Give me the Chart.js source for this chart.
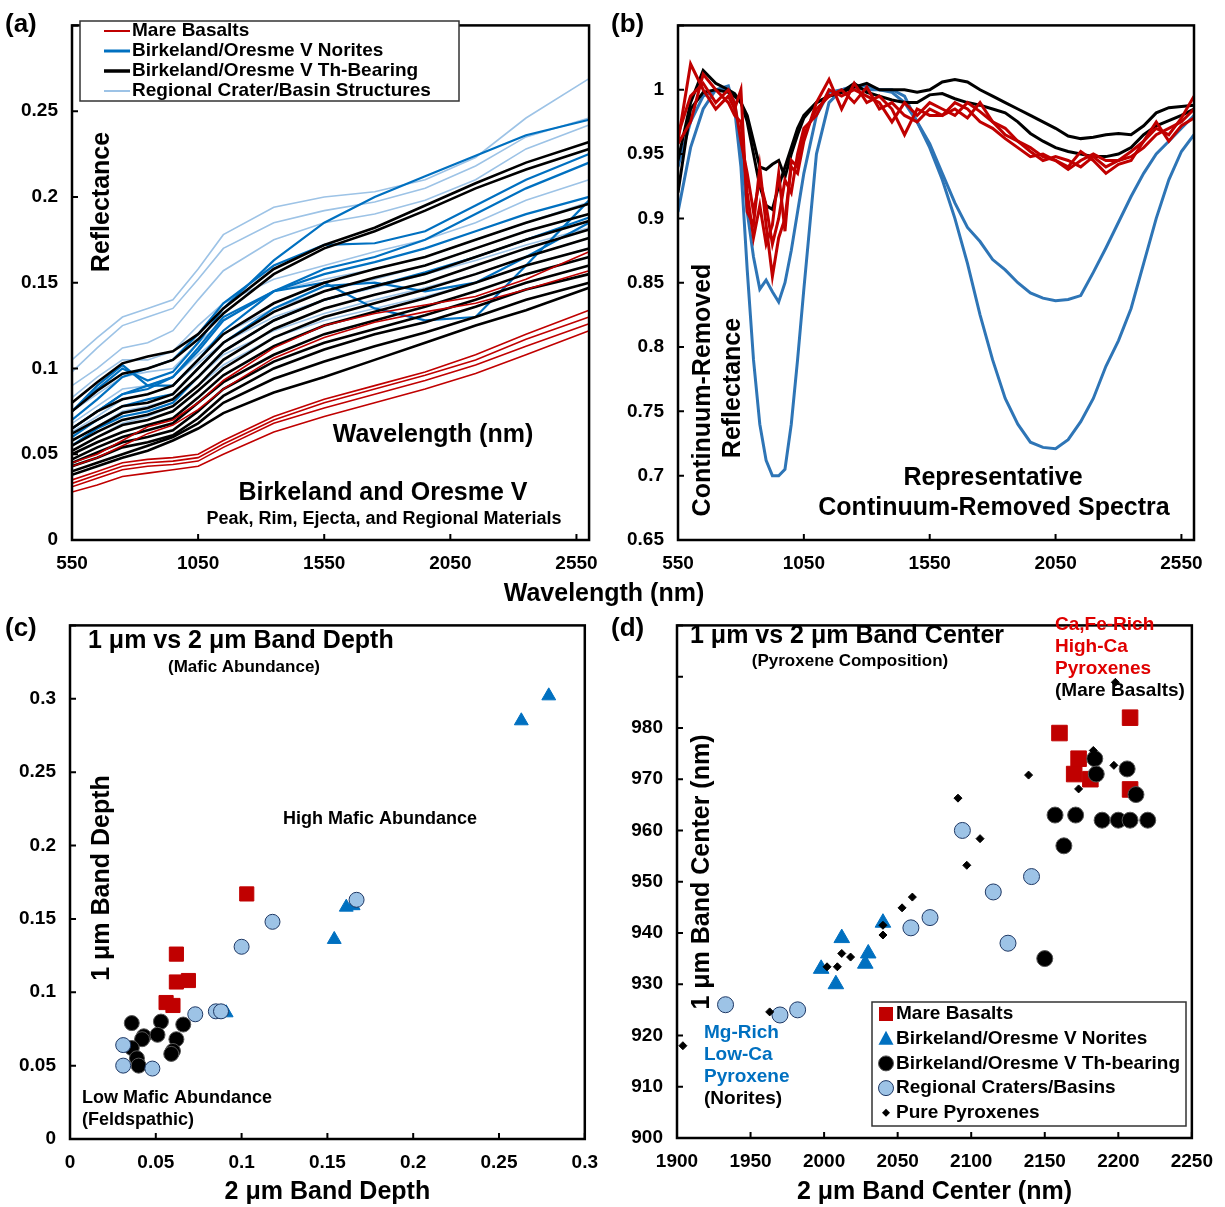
<!DOCTYPE html>
<html>
<head>
<meta charset="utf-8">
<script src="https://cdn.jsdelivr.net/npm/chart.js@4.4.0/dist/chart.umd.min.js"></script>
<style>
  body { margin: 0; background: #fff; }
  #wrap { position: relative; width: 1225px; height: 1207px; }
  canvas { position: absolute; }
  #wlTitle { position: absolute; left: 454px; top: 577px; width: 300px; text-align: center;
             font: bold 25px/30px "Liberation Sans", Arial, sans-serif; color: #000; }
</style>
</head>
<body>
<div id="wrap">
  <canvas id="chartA" width="610" height="575" style="left:0;top:0"></canvas>
  <canvas id="chartB" width="615" height="575" style="left:610px;top:0"></canvas>
  <canvas id="chartC" width="610" height="607" style="left:0;top:600px"></canvas>
  <canvas id="chartD" width="615" height="607" style="left:610px;top:600px"></canvas>
  <div id="wlTitle">Wavelength (nm)</div>
</div>
<script>
// ---- (a) reflectance spectra ----
const specWl = [550, 650, 750, 850, 950, 1050, 1150, 1350, 1550, 1750, 1950, 2150, 2350, 2600];
const wlTicks = [550, 1050, 1550, 2050, 2550];

const mareSpectra = [
  [0.035, 0.040, 0.045, 0.047, 0.048, 0.050, 0.058, 0.072, 0.082, 0.090, 0.098, 0.108, 0.120, 0.134],
  [0.033, 0.038, 0.043, 0.045, 0.046, 0.048, 0.056, 0.070, 0.080, 0.088, 0.096, 0.105, 0.117, 0.130],
  [0.031, 0.036, 0.041, 0.043, 0.044, 0.046, 0.054, 0.068, 0.077, 0.085, 0.093, 0.102, 0.113, 0.126],
  [0.028, 0.032, 0.037, 0.039, 0.041, 0.043, 0.050, 0.063, 0.072, 0.080, 0.088, 0.097, 0.108, 0.122],
  [0.045, 0.050, 0.058, 0.066, 0.070, 0.080, 0.093, 0.112, 0.125, 0.132, 0.137, 0.142, 0.152, 0.168],
  [0.043, 0.048, 0.055, 0.062, 0.067, 0.076, 0.088, 0.106, 0.118, 0.127, 0.133, 0.138, 0.146, 0.157]
];
const noriteSpectra = [
  [0.075, 0.088, 0.100, 0.093, 0.098, 0.115, 0.135, 0.163, 0.185, 0.200, 0.212, 0.224, 0.236, 0.245],
  [0.070, 0.082, 0.095, 0.100, 0.105, 0.120, 0.138, 0.160, 0.172, 0.173, 0.180, 0.195, 0.210, 0.225],
  [0.065, 0.075, 0.085, 0.090, 0.095, 0.110, 0.128, 0.145, 0.158, 0.165, 0.175, 0.190, 0.205, 0.220],
  [0.075, 0.090, 0.102, 0.090, 0.090, 0.105, 0.122, 0.145, 0.155, 0.162, 0.170, 0.180, 0.190, 0.200],
  [0.065, 0.075, 0.085, 0.088, 0.095, 0.112, 0.130, 0.145, 0.150, 0.135, 0.128, 0.130, 0.160, 0.198],
  [0.060, 0.070, 0.078, 0.082, 0.085, 0.100, 0.115, 0.135, 0.148, 0.150, 0.145, 0.150, 0.165, 0.185],
  [0.055, 0.065, 0.072, 0.075, 0.080, 0.095, 0.110, 0.128, 0.140, 0.148, 0.156, 0.165, 0.175, 0.188]
];
const thSpectra = [
  [0.080, 0.092, 0.103, 0.107, 0.110, 0.120, 0.135, 0.158, 0.172, 0.182, 0.195, 0.208, 0.220, 0.232],
  [0.075, 0.087, 0.097, 0.100, 0.105, 0.117, 0.132, 0.155, 0.170, 0.180, 0.192, 0.205, 0.216, 0.228],
  [0.065, 0.075, 0.082, 0.085, 0.090, 0.105, 0.120, 0.138, 0.150, 0.158, 0.165, 0.175, 0.185, 0.196],
  [0.062, 0.070, 0.078, 0.080, 0.085, 0.100, 0.115, 0.133, 0.145, 0.153, 0.160, 0.170, 0.180, 0.190],
  [0.058, 0.066, 0.074, 0.077, 0.082, 0.095, 0.110, 0.128, 0.140, 0.148, 0.155, 0.165, 0.175, 0.186],
  [0.055, 0.063, 0.070, 0.073, 0.078, 0.090, 0.105, 0.123, 0.135, 0.143, 0.150, 0.160, 0.170, 0.181],
  [0.052, 0.060, 0.067, 0.070, 0.075, 0.087, 0.100, 0.118, 0.130, 0.138, 0.146, 0.155, 0.165, 0.176],
  [0.050, 0.057, 0.063, 0.067, 0.071, 0.083, 0.096, 0.113, 0.125, 0.133, 0.141, 0.150, 0.160, 0.170],
  [0.047, 0.054, 0.060, 0.064, 0.068, 0.080, 0.092, 0.108, 0.120, 0.128, 0.136, 0.145, 0.155, 0.165],
  [0.045, 0.051, 0.057, 0.060, 0.064, 0.075, 0.088, 0.104, 0.115, 0.123, 0.131, 0.140, 0.150, 0.160],
  [0.043, 0.048, 0.054, 0.057, 0.061, 0.071, 0.084, 0.100, 0.111, 0.120, 0.127, 0.136, 0.146, 0.155],
  [0.040, 0.045, 0.050, 0.055, 0.060, 0.068, 0.080, 0.094, 0.104, 0.113, 0.121, 0.130, 0.140, 0.150],
  [0.038, 0.043, 0.048, 0.052, 0.058, 0.065, 0.074, 0.086, 0.095, 0.105, 0.115, 0.125, 0.134, 0.147]
];
const regionalSpectra = [
  [0.105, 0.118, 0.130, 0.135, 0.140, 0.158, 0.178, 0.194, 0.200, 0.203, 0.210, 0.223, 0.246, 0.269],
  [0.098, 0.112, 0.125, 0.130, 0.135, 0.152, 0.170, 0.185, 0.192, 0.197, 0.205, 0.218, 0.235, 0.246],
  [0.090, 0.100, 0.112, 0.115, 0.122, 0.140, 0.157, 0.175, 0.185, 0.190, 0.198, 0.210, 0.228, 0.242],
  [0.083, 0.095, 0.105, 0.105, 0.110, 0.125, 0.138, 0.152, 0.160, 0.168, 0.175, 0.185, 0.198, 0.210],
  [0.075, 0.085, 0.095, 0.098, 0.100, 0.115, 0.128, 0.145, 0.152, 0.158, 0.165, 0.175, 0.185, 0.197],
  [0.068, 0.078, 0.088, 0.090, 0.095, 0.108, 0.120, 0.135, 0.145, 0.152, 0.160, 0.170, 0.180, 0.190],
  [0.063, 0.072, 0.082, 0.085, 0.090, 0.103, 0.115, 0.130, 0.140, 0.147, 0.155, 0.163, 0.172, 0.182],
  [0.058, 0.066, 0.075, 0.078, 0.082, 0.095, 0.108, 0.122, 0.132, 0.140, 0.147, 0.155, 0.165, 0.176],
  [0.052, 0.060, 0.068, 0.072, 0.078, 0.090, 0.102, 0.118, 0.128, 0.135, 0.142, 0.150, 0.160, 0.170]
];

// ---- (b) continuum-removed spectra ----
const crWl = [550, 600, 650, 700, 750, 775, 800, 825, 850, 875, 900, 925,
              950, 975, 1000, 1025, 1050, 1100, 1150, 1200, 1250, 1300, 1350, 1400,
              1450, 1500, 1550, 1600, 1650, 1700, 1750, 1800, 1850, 1900, 1950, 2000,
              2050, 2100, 2150, 2200, 2250, 2300, 2350, 2400, 2450, 2500, 2550, 2600];
const crMare = [
  [0.960, 1.020, 1.000, 0.985, 0.995, 0.985, 1.000, 0.905, 0.895, 0.940, 0.895, 0.855,
   0.885, 0.900, 0.940, 0.935, 0.960, 0.990, 1.008, 0.985, 1.005, 0.990, 0.995, 0.985,
   0.965, 0.985, 0.980, 0.980, 0.985, 0.978, 0.990, 0.975, 0.965, 0.960, 0.955, 0.948,
   0.945, 0.940, 0.952, 0.945, 0.935, 0.942, 0.945, 0.960, 0.970, 0.965, 0.978, 0.995],
  [0.958, 0.975, 1.012, 1.000, 0.990, 0.980, 0.975, 0.920, 0.885, 0.910, 0.880, 0.895,
   0.935, 0.890, 0.945, 0.940, 0.965, 0.985, 0.995, 1.000, 0.990, 1.002, 0.985, 0.990,
   0.980, 0.975, 0.985, 0.980, 0.990, 0.985, 0.975, 0.970, 0.962, 0.955, 0.948, 0.950,
   0.945, 0.938, 0.945, 0.950, 0.945, 0.945, 0.952, 0.960, 0.975, 0.960, 0.972, 0.978],
  [0.965, 0.995, 1.005, 0.990, 1.000, 0.990, 0.960, 0.935, 0.905, 0.930, 0.910, 0.880,
   0.900, 0.930, 0.920, 0.950, 0.970, 0.980, 1.000, 0.995, 1.000, 0.995, 0.990, 0.975,
   0.990, 0.980, 0.990, 0.985, 0.980, 0.990, 0.983, 0.975, 0.970, 0.960, 0.952, 0.945,
   0.948, 0.945, 0.940, 0.948, 0.940, 0.945, 0.948, 0.955, 0.965, 0.970, 0.975, 0.985]
];
const crNorite = [
  [0.940, 0.975, 0.995, 1.000, 1.000, 0.990, 0.955, 0.905, 0.870, 0.845, 0.852, 0.843,
   0.835, 0.850, 0.875, 0.905, 0.935, 0.980, 0.998, 1.000, 1.002, 1.000, 1.000, 0.998,
   0.990, 0.975, 0.958, 0.935, 0.912, 0.893, 0.882, 0.868, 0.860, 0.850, 0.842, 0.838,
   0.836, 0.837, 0.840, 0.858, 0.877, 0.897, 0.917, 0.935, 0.950, 0.960, 0.970, 0.980],
  [0.905, 0.955, 0.985, 1.000, 1.003, 0.985, 0.940, 0.860, 0.790, 0.740, 0.712, 0.700,
   0.700, 0.705, 0.740, 0.790, 0.845, 0.950, 0.990, 1.000, 1.003, 1.003, 1.000, 1.000,
   0.995, 0.975, 0.955, 0.930, 0.900, 0.865, 0.825, 0.790, 0.760, 0.740, 0.726, 0.722,
   0.721, 0.728, 0.742, 0.760, 0.785, 0.805, 0.830, 0.865, 0.900, 0.930, 0.952, 0.965]
];
const crTh = [
  [0.945, 0.990, 1.015, 1.005, 1.000, 0.997, 0.990, 0.980, 0.960, 0.940, 0.938, 0.942,
   0.945, 0.932, 0.950, 0.965, 0.978, 0.990, 0.995, 0.998, 1.002, 1.005, 1.000, 1.000,
   1.000, 0.998, 1.000, 1.006, 1.008, 1.006, 1.000, 0.995, 0.990, 0.985, 0.980, 0.975,
   0.970, 0.964, 0.962, 0.963, 0.965, 0.966, 0.965, 0.972, 0.982, 0.986, 0.987, 0.988],
  [0.920, 0.985, 0.998, 1.000, 0.998, 0.995, 0.990, 0.975, 0.950, 0.925, 0.910, 0.907,
   0.925, 0.940, 0.955, 0.970, 0.980, 0.990, 0.995, 0.998, 1.005, 0.998, 0.995, 0.992,
   0.990, 0.990, 0.996, 0.997, 0.993, 0.990, 0.988, 0.985, 0.982, 0.975, 0.966, 0.960,
   0.955, 0.952, 0.950, 0.948, 0.948, 0.950, 0.955, 0.965, 0.972, 0.976, 0.980, 0.985]
];

// ---- (c) band depth (2 um, 1 um) ----
const bdMare = [[0.103, 0.167], [0.062, 0.126], [0.062, 0.107], [0.069, 0.108], [0.056, 0.093], [0.060, 0.091]];
const bdNorite = [[0.279, 0.302], [0.263, 0.285], [0.154, 0.136], [0.161, 0.158], [0.165, 0.159], [0.091, 0.086]];
const bdTh = [[0.036, 0.079], [0.053, 0.080], [0.066, 0.078], [0.043, 0.070], [0.051, 0.071], [0.042, 0.068],
              [0.062, 0.068], [0.036, 0.062], [0.039, 0.055], [0.040, 0.050], [0.060, 0.060], [0.059, 0.058]];
const bdRegional = [[0.031, 0.064], [0.031, 0.050], [0.048, 0.048], [0.073, 0.085], [0.085, 0.087],
                    [0.088, 0.087], [0.100, 0.131], [0.118, 0.148], [0.167, 0.163]];

// ---- (d) band center (2 um, 1 um) ----
const bcMare = [[2160, 979], [2208, 982], [2173, 974], [2170, 971], [2181, 970], [2208, 968]];
const bcNorite = [[1998, 933], [2008, 930], [2012, 939], [2028, 934], [2030, 936], [2040, 942]];
const bcTh = [[2184, 974], [2185, 971], [2206, 972], [2212, 967], [2157, 963], [2171, 963], [2189, 962],
              [2200, 962], [2208, 962], [2220, 962], [2163, 957], [2150, 935]];
const bcRegional = [[2094, 960], [2115, 948], [2141, 951], [2072, 943], [2059, 941], [2125, 938],
                    [1933, 926], [1970, 924], [1982, 925]];
const bcPure = [[2091, 966.3], [2106, 958.4], [2097, 953.2], [2060, 947], [2053, 944.9], [2139, 970.8],
                [2183, 975.6], [2173, 968.1], [2197, 972.7], [2198, 988.9], [1904, 918], [1963, 924.6],
                [2002, 933.4], [2009, 933.4], [2012, 936], [2018, 935.3], [2040, 939.6], [2040, 941.5]];

const legendA = ['Mare Basalts', 'Birkeland/Oresme V Norites', 'Birkeland/Oresme V Th-Bearing', 'Regional Crater/Basin Structures'];
const legendD = ['Mare Basalts', 'Birkeland/Oresme V Norites', 'Birkeland/Oresme V Th-bearing', 'Regional Craters/Basins', 'Pure Pyroxenes'];

const FONT = '"Liberation Sans", Arial, sans-serif';
Chart.defaults.font.family = FONT;
Chart.defaults.color = '#000';

const RED = '#C00000', BLUE = '#0070C0', LBLUE = '#9DC3E6', BLK = '#000';

const fmt = v => String(Math.round(v * 100) / 100);

// box + inward tick marks
function framePlugin() {
  return {
    id: 'frame',
    afterDraw(chart) {
      const ctx = chart.ctx, a = chart.chartArea;
      const xs = chart.scales.x, ys = chart.scales.y;
      ctx.save();
      ctx.strokeStyle = '#000';
      ctx.lineWidth = 2;
      ctx.beginPath();
      xs.ticks.forEach(t => {
        const p = xs.getPixelForValue(t.value);
        ctx.moveTo(p, a.bottom); ctx.lineTo(p, a.bottom - 6);
      });
      ys.ticks.forEach(t => {
        const p = ys.getPixelForValue(t.value);
        ctx.moveTo(a.left, p); ctx.lineTo(a.left + 6, p);
      });
      ctx.stroke();
      ctx.lineWidth = 2.5;
      ctx.strokeRect(a.left, a.top, a.right - a.left, a.bottom - a.top);
      ctx.restore();
    }
  };
}

function notesPlugin(items) {
  return {
    id: 'notes',
    afterDraw(chart) {
      const ctx = chart.ctx;
      items.forEach(n => {
        ctx.save();
        ctx.translate(n.x, n.y);
        if (n.rot) ctx.rotate(n.rot * Math.PI / 180);
        ctx.font = n.font;
        ctx.fillStyle = n.color || '#000';
        ctx.textAlign = n.align || 'center';
        ctx.textBaseline = 'middle';
        ctx.fillText(n.t, 0, 0);
        ctx.restore();
      });
    }
  };
}

function drawMark(ctx, m, x, y) {
  ctx.save();
  if (m.line) {
    ctx.strokeStyle = m.color; ctx.lineWidth = m.width;
    ctx.beginPath(); ctx.moveTo(x - 13, y); ctx.lineTo(x + 13, y); ctx.stroke();
  } else {
    ctx.fillStyle = m.color; ctx.strokeStyle = m.border || m.color; ctx.lineWidth = 1;
    ctx.beginPath();
    if (m.shape === 'square') ctx.rect(x - 7, y - 7, 14, 14);
    if (m.shape === 'triangle') { ctx.moveTo(x, y - 8); ctx.lineTo(x + 7.5, y + 6); ctx.lineTo(x - 7.5, y + 6); ctx.closePath(); }
    if (m.shape === 'circle') ctx.arc(x, y, 7.5, 0, Math.PI * 2);
    if (m.shape === 'diamond') { ctx.moveTo(x, y - 4); ctx.lineTo(x + 4, y); ctx.lineTo(x, y + 4); ctx.lineTo(x - 4, y); ctx.closePath(); }
    ctx.fill();
    if (m.border) ctx.stroke();
  }
  ctx.restore();
}

function legendPlugin(box, labels, marks) {
  return {
    id: 'boxLegend',
    afterDraw(chart) {
      const ctx = chart.ctx;
      ctx.save();
      ctx.fillStyle = '#fff';
      ctx.fillRect(box.x, box.y, box.w, box.h);
      ctx.strokeStyle = '#333'; ctx.lineWidth = 1.5;
      ctx.strokeRect(box.x, box.y, box.w, box.h);
      ctx.font = box.font; ctx.textAlign = 'left'; ctx.textBaseline = 'middle';
      labels.forEach((lab, i) => {
        const y = box.rowY + i * box.rowH;
        drawMark(ctx, marks[i], box.markX, y);
        ctx.fillStyle = '#000';
        ctx.fillText(lab, box.textX, y);
      });
      ctx.restore();
    }
  };
}

function lineSets(groups, xs, color, width) {
  return groups.map(g => ({
    data: xs.map((w, i) => ({ x: w, y: g[i] })),
    showLine: true, borderColor: color, borderWidth: width,
    pointRadius: 0, tension: 0, fill: false
  }));
}

function pointSet(pts, style, radius, fill, border, order) {
  return {
    data: pts.map(p => ({ x: p[0], y: p[1] })),
    pointStyle: style, pointRadius: radius, backgroundColor: fill,
    borderColor: border, borderWidth: 1, order: order
  };
}

const tickFont = { family: FONT, size: 19, weight: 'bold' };

function axes(o) {
  return {
    x: {
      type: 'linear', min: o.xMin, max: o.xMax,
      ticks: { stepSize: o.xStep, font: tickFont, color: '#000', padding: 12, autoSkip: false, maxRotation: 0,
               callback: o.xLabel },
      afterBuildTicks: o.xTicks ? (s => { s.ticks = o.xTicks.map(v => ({ value: v })); }) : undefined,
      grid: { display: false, drawTicks: false },
      border: { display: false },
      title: o.xTitle ? { display: true, text: o.xTitle, font: { family: FONT, size: 25, weight: 'bold' },
                          color: '#000', padding: { top: 0, bottom: 0 } } : { display: false },
      afterFit: s => { s.height = o.xH; }
    },
    y: {
      type: 'linear', min: o.yMin, max: o.yMax,
      ticks: { stepSize: o.yStep, font: tickFont, color: '#000', padding: 14, autoSkip: false,
               callback: o.yLabel },
      grid: { display: false, drawTicks: false },
      border: { display: false },
      afterFit: s => { s.width = o.yW; }
    }
  };
}

function baseOptions(pad, scales) {
  return {
    responsive: false, animation: false,
    layout: { padding: pad, autoPadding: false },
    plugins: { legend: { display: false }, tooltip: { enabled: false } },
    scales: scales
  };
}

const B25 = 'bold 25px ' + FONT;
const B26 = 'bold 26px ' + FONT;
const B18 = 'bold 18px ' + FONT;
const B17 = 'bold 17px ' + FONT;
const B19 = 'bold 19px ' + FONT;

// ---------- (a) ----------
new Chart(document.getElementById('chartA'), {
  type: 'scatter',
  data: {
    datasets: [
      ...lineSets(mareSpectra, specWl, RED, 1.6),
      ...lineSets(thSpectra, specWl, BLK, 2.6),
      ...lineSets(noriteSpectra, specWl, BLUE, 2.2),
      ...lineSets(regionalSpectra, specWl, LBLUE, 1.6)
    ]
  },
  options: baseOptions({ top: 16, right: 17, left: 0, bottom: 0 }, axes({
    xMin: 550, xMax: 2600, xTicks: wlTicks, xLabel: v => String(v), xH: 35,
    yMin: 0, yMax: 0.3, yStep: 0.05, yLabel: v => v > 0.29 ? '' : fmt(v), yW: 72
  })),
  plugins: [
    framePlugin(),
    legendPlugin({ x: 80, y: 21, w: 379, h: 80, rowY: 31, rowH: 20, markX: 117, textX: 132, font: B19 },
      legendA, [
        { line: true, color: RED, width: 2 }, { line: true, color: BLUE, width: 3 },
        { line: true, color: BLK, width: 3.5 }, { line: true, color: LBLUE, width: 2 }
      ]),
    notesPlugin([
      { t: '(a)', x: 5, y: 25, font: B26, align: 'left' },
      { t: 'Reflectance', x: 102, y: 202, font: B25, rot: -90 },
      { t: 'Wavelength (nm)', x: 433, y: 435, font: B25 },
      { t: 'Birkeland and Oresme V', x: 383, y: 493, font: B25 },
      { t: 'Peak, Rim, Ejecta, and Regional Materials', x: 384, y: 519, font: B18 }
    ])
  ]
});

// ---------- (b) ----------
new Chart(document.getElementById('chartB'), {
  type: 'scatter',
  data: {
    datasets: [
      ...lineSets(crMare, crWl, RED, 3),
      ...lineSets(crTh, crWl, BLK, 3),
      ...lineSets(crNorite, crWl, '#2E75B6', 3)
    ]
  },
  options: baseOptions({ top: 14, right: 31, left: 0, bottom: 0 }, axes({
    xMin: 550, xMax: 2600, xTicks: wlTicks, xLabel: v => String(v), xH: 35,
    yMin: 0.65, yMax: 1.05, yStep: 0.05, yLabel: v => v > 1.04 ? '' : fmt(v), yW: 68
  })),
  plugins: [
    framePlugin(),
    notesPlugin([
      { t: '(b)', x: 1, y: 25, font: B26, align: 'left' },
      { t: 'Continuum-Removed', x: 93, y: 390, font: B25, rot: -90 },
      { t: 'Reflectance', x: 123, y: 388, font: B25, rot: -90 },
      { t: 'Representative', x: 383, y: 478, font: B25 },
      { t: 'Continuum-Removed Spectra', x: 384, y: 508, font: B25 }
    ])
  ]
});

// ---------- (c) ----------
new Chart(document.getElementById('chartC'), {
  type: 'scatter',
  data: {
    datasets: [
      pointSet(bdNorite, 'triangle', 8, BLUE, BLUE, 4),
      pointSet(bdTh, 'circle', 7.5, BLK, '#555', 3),
      pointSet(bdMare, 'rect', 10, RED, RED, 2),
      pointSet(bdRegional, 'circle', 7.5, LBLUE, '#1F3864', 1)
    ]
  },
  options: baseOptions({ top: 13, right: 17, left: 0, bottom: 0 }, axes({
    xMin: 0, xMax: 0.3, xStep: 0.05, xLabel: v => fmt(v), xH: 68, xTitle: '2 μm Band Depth',
    yMin: 0, yMax: 0.35, yStep: 0.05, yLabel: v => v > 0.34 ? '' : fmt(v), yW: 70
  })),
  plugins: [
    framePlugin(),
    notesPlugin([
      { t: '(c)', x: 5, y: 29, font: B26, align: 'left' },
      { t: '1 μm vs 2 μm Band Depth', x: 88, y: 41, font: B25, align: 'left' },
      { t: '(Mafic Abundance)', x: 244, y: 67, font: B17 },
      { t: 'High Mafic Abundance', x: 380, y: 219, font: B18 },
      { t: 'Low Mafic Abundance', x: 82, y: 498, font: B18, align: 'left' },
      { t: '(Feldspathic)', x: 82, y: 520, font: B18, align: 'left' },
      { t: '1 μm Band Depth', x: 102, y: 278, font: B25, rot: -90 }
    ])
  ]
});

// ---------- (d) ----------
new Chart(document.getElementById('chartD'), {
  type: 'scatter',
  data: {
    datasets: [
      pointSet(bcMare, 'rect', 11, RED, RED, 5),
      pointSet(bcNorite, 'triangle', 9, BLUE, BLUE, 4),
      pointSet(bcRegional, 'circle', 8, LBLUE, '#1F3864', 3),
      pointSet(bcTh, 'circle', 8, BLK, '#555', 2),
      pointSet(bcPure, 'rectRot', 4, BLK, BLK, 1)
    ]
  },
  options: baseOptions({ top: 12, right: 31, left: 0, bottom: 0 }, axes({
    xMin: 1900, xMax: 2250, xStep: 50, xLabel: v => String(v), xH: 69, xTitle: '2 μm Band Center (nm)',
    yMin: 900, yMax: 1000, yStep: 10, yLabel: v => v >= 990 ? '' : String(v), yW: 67
  })),
  plugins: [
    framePlugin(),
    legendPlugin({ x: 262, y: 402, w: 314, h: 124, rowY: 414, rowH: 24.7, markX: 276, textX: 286, font: B19 },
      legendD, [
        { shape: 'square', color: RED }, { shape: 'triangle', color: BLUE },
        { shape: 'circle', color: BLK, border: '#555' }, { shape: 'circle', color: LBLUE, border: '#1F3864' },
        { shape: 'diamond', color: BLK }
      ]),
    notesPlugin([
      { t: '(d)', x: 1, y: 29, font: B26, align: 'left' },
      { t: '1 μm vs 2 μm Band Center', x: 80, y: 36, font: B25, align: 'left' },
      { t: '(Pyroxene Composition)', x: 240, y: 61, font: B17 },
      { t: 'Ca,Fe-Rich', x: 445, y: 25, font: B19, align: 'left', color: '#E00000' },
      { t: 'High-Ca', x: 445, y: 47, font: B19, align: 'left', color: '#E00000' },
      { t: 'Pyroxenes', x: 445, y: 69, font: B19, align: 'left', color: '#E00000' },
      { t: '(Mare Basalts)', x: 445, y: 91, font: B19, align: 'left' },
      { t: 'Mg-Rich', x: 94, y: 433, font: B19, align: 'left', color: BLUE },
      { t: 'Low-Ca', x: 94, y: 455, font: B19, align: 'left', color: BLUE },
      { t: 'Pyroxene', x: 94, y: 477, font: B19, align: 'left', color: BLUE },
      { t: '(Norites)', x: 94, y: 499, font: B19, align: 'left' },
      { t: '1 μm Band Center (nm)', x: 92, y: 272, font: B25, rot: -90 }
    ])
  ]
});
</script>
</body>
</html>
